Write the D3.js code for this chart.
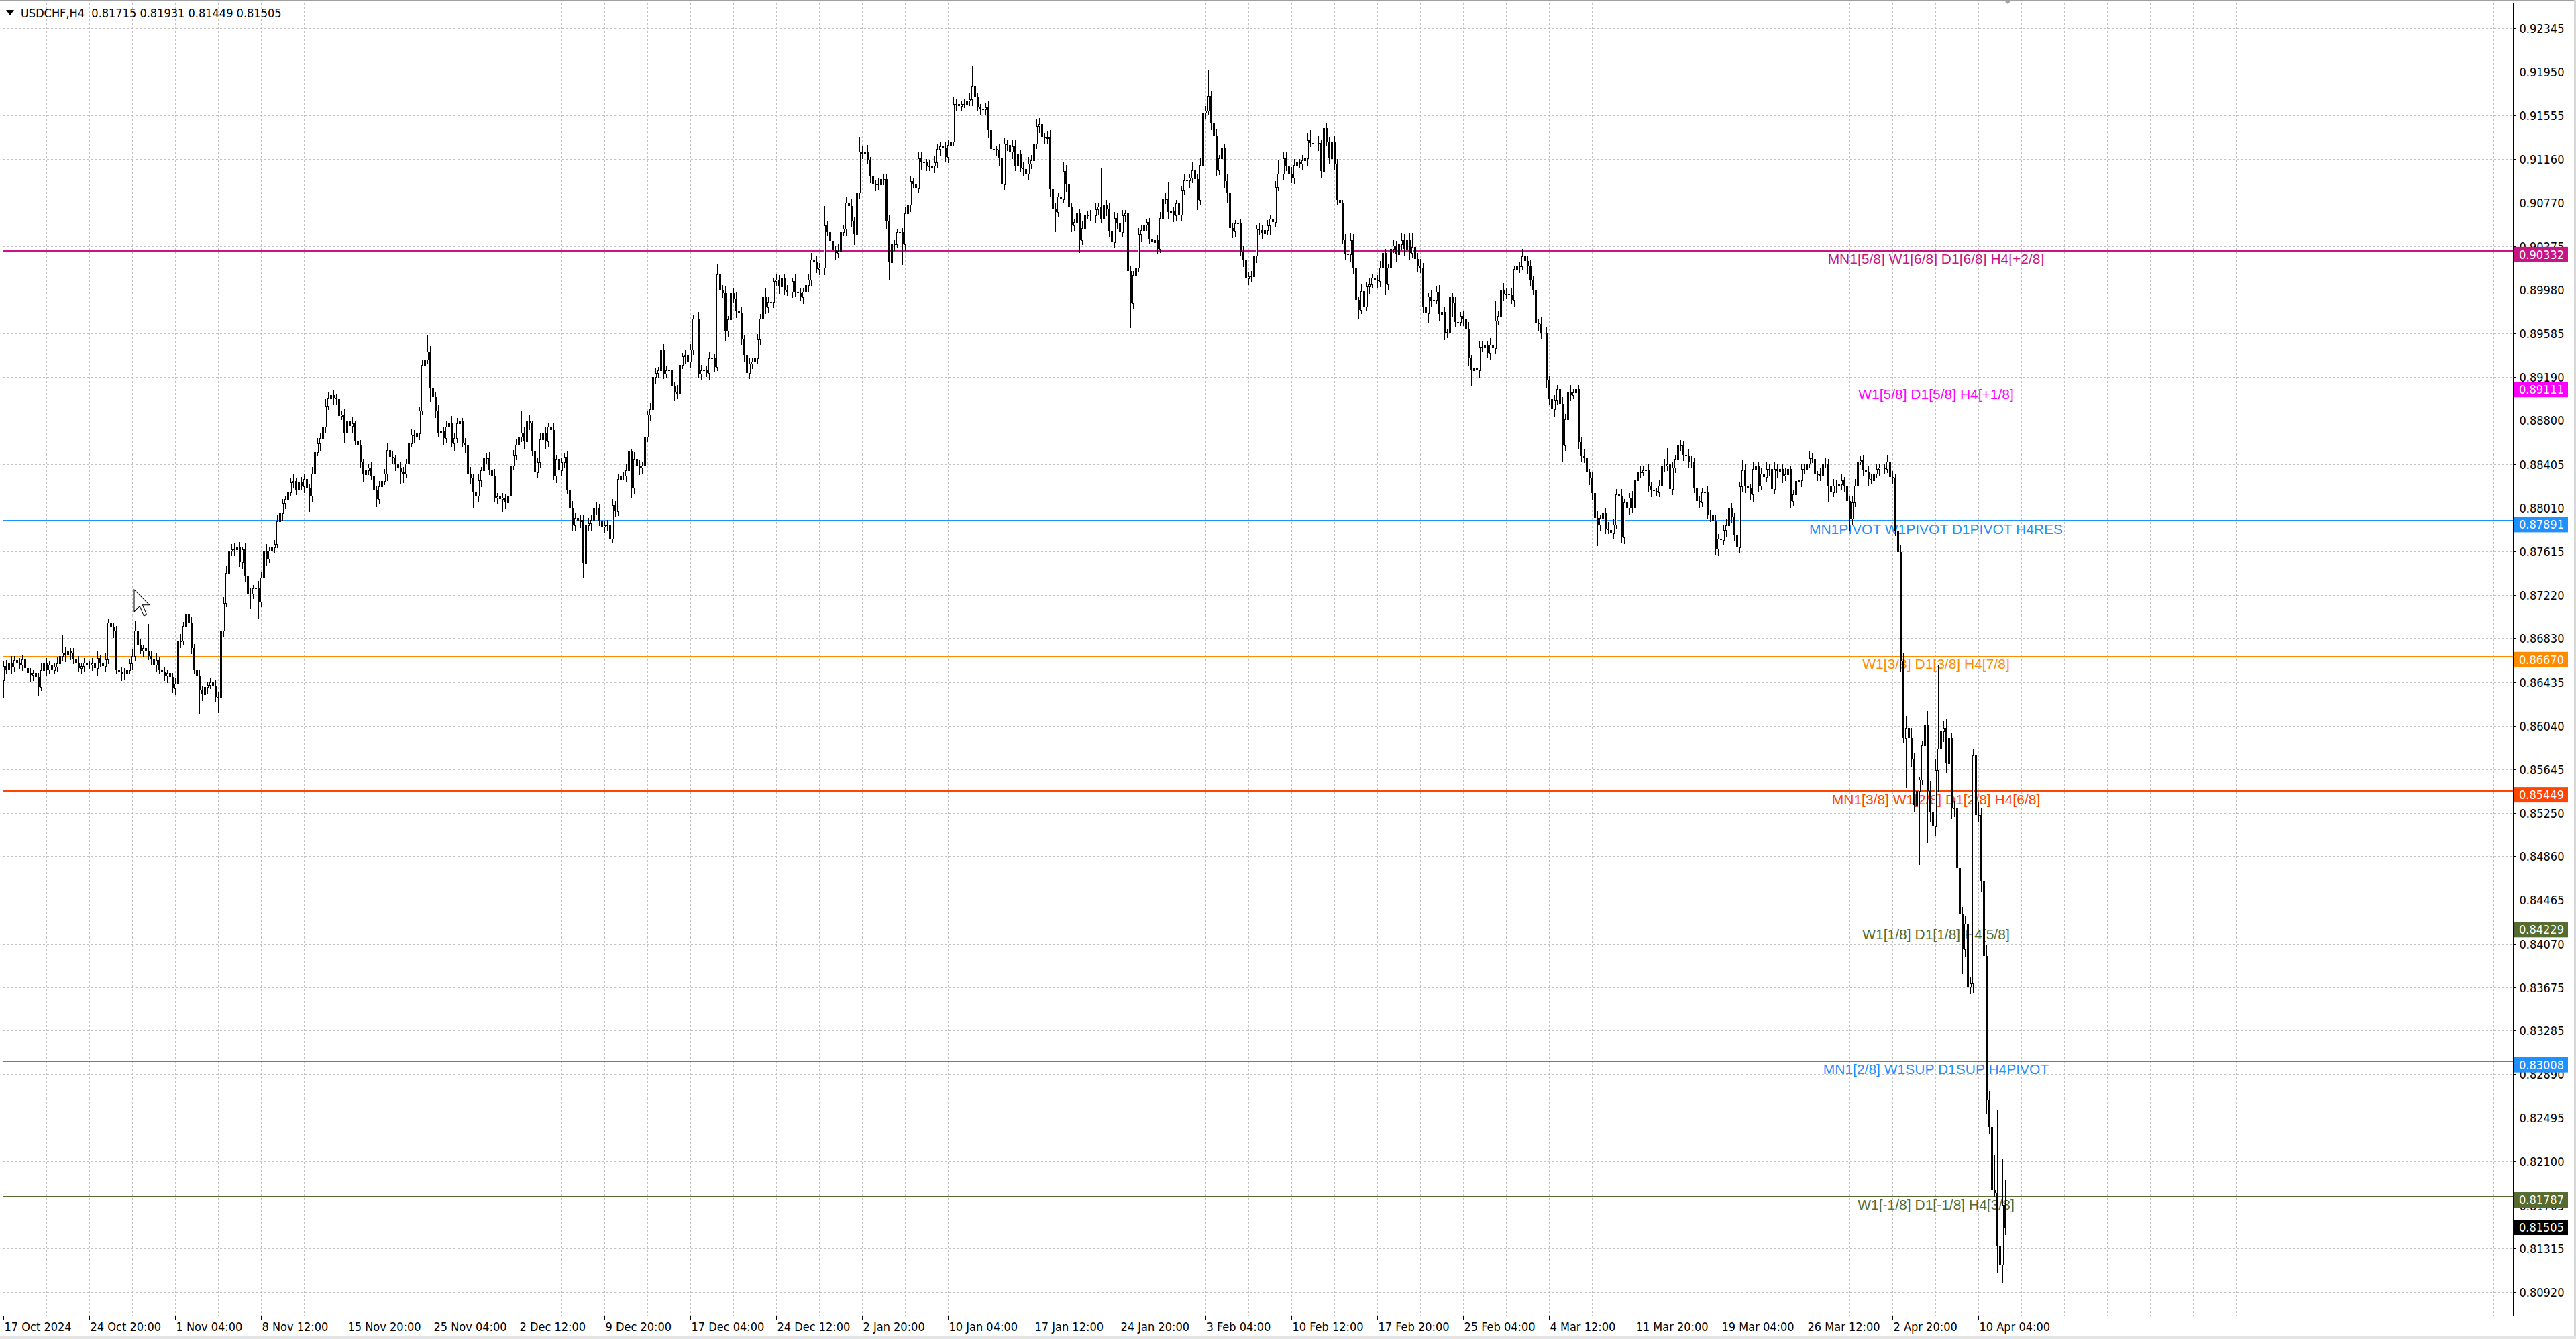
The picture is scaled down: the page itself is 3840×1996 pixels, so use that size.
<!DOCTYPE html>
<html>
<head>
<meta charset="utf-8">
<title>USDCHF,H4</title>
<script src="https://cdn.jsdelivr.net/npm/d3@7"></script>
<style>
html, body { margin: 0; padding: 0; background: #fff; overflow: hidden; }
svg { display: block; }
</style>
</head>
<body>
<svg id="chart" width="3840" height="1996"></svg>
<script>
// ---------------- data ----------------
const symbolTitle = 'USDCHF,H4';
const lastOHLC = ['0.81715', '0.81931', '0.81449', '0.81505'];
const bidPrice = 0.81505;

// H4 closes in 1/10000, one line per 16 bars
const firstOpen = 8645;
const closes = [
  8658,8655,8661,8657,8663,8660,8659,8664,8656,8652,8650,8652,8648,8639,8654,8661,
  8655,8659,8654,8657,8660,8667,8670,8668,8671,8669,8664,8661,8656,8658,8661,8659,
  8659,8660,8656,8665,8661,8658,8664,8697,8693,8689,8654,8653,8651,8651,8654,8660,
  8667,8690,8677,8672,8674,8671,8667,8664,8659,8663,8654,8653,8649,8652,8648,8638,
  8642,8680,8681,8694,8705,8697,8674,8655,8649,8636,8632,8639,8641,8643,8640,8630,
  8629,8690,8715,8742,8762,8763,8763,8765,8752,8763,8739,8723,8723,8728,8729,8716,
  8738,8762,8755,8762,8765,8768,8789,8796,8805,8809,8815,8824,8825,8817,8824,8820,
  8827,8819,8812,8832,8851,8859,8864,8874,8893,8900,8903,8900,8899,8884,8885,8869,
  8879,8875,8877,8861,8858,8842,8831,8835,8837,8830,8817,8809,8820,8825,8832,8853,
  8847,8846,8841,8837,8833,8832,8841,8859,8867,8866,8868,8889,8930,8935,8942,8909,
  8901,8889,8869,8870,8864,8874,8878,8859,8864,8877,8879,8859,8857,8832,8828,8815,
  8812,8826,8835,8846,8846,8835,8830,8810,8811,8809,8810,8806,8812,8839,8849,8858,
  8865,8869,8861,8879,8877,8852,8833,8842,8863,8869,8861,8874,8871,8830,8845,8835,
  8842,8847,8817,8801,8785,8792,8789,8790,8751,8785,8787,8790,8801,8800,8789,8784,
  8785,8785,8773,8803,8798,8827,8830,8830,8835,8852,8819,8845,8839,8837,8839,8865,
  8885,8890,8919,8923,8925,8944,8922,8925,8925,8911,8906,8904,8930,8938,8939,8933,
  8944,8972,8972,8922,8925,8925,8923,8936,8936,8928,9012,8998,8995,8961,8971,8995,
  8990,8979,8977,8953,8939,8923,8931,8933,8936,8953,8972,8991,8982,8987,8987,9006,
  9007,9001,9009,8998,8996,8996,9006,8996,8995,8991,8996,9002,9007,9025,9023,9017,
  9018,9018,9056,9050,9042,9034,9031,9033,9050,9053,9077,9074,9060,9048,9086,9123,
  9121,9123,9115,9101,9093,9093,9093,9098,9098,9060,9023,9039,9039,9050,9050,9039,
  9067,9075,9096,9094,9090,9117,9113,9113,9110,9109,9110,9113,9125,9128,9126,9118,
  9129,9132,9166,9166,9164,9166,9166,9169,9170,9182,9172,9163,9161,9161,9163,9142,
  9125,9125,9124,9117,9093,9130,9129,9123,9128,9110,9121,9108,9107,9103,9112,9115,
  9130,9146,9148,9136,9135,9136,9089,9071,9068,9082,9080,9105,9093,9073,9056,9059,
  9067,9043,9054,9065,9066,9066,9065,9071,9073,9062,9075,9071,9051,9041,9063,9058,
  9050,9065,9067,9015,8986,9011,9018,9048,9052,9057,9059,9044,9041,9043,9035,9063,
  9080,9080,9068,9069,9065,9076,9066,9088,9097,9097,9099,9106,9098,9079,9111,9158,
  9160,9173,9149,9137,9106,9117,9126,9096,9086,9054,9051,9058,9058,9032,9025,9008,
  9010,9010,9029,9053,9052,9049,9052,9056,9062,9059,9091,9103,9103,9117,9110,9103,
  9099,9111,9113,9112,9115,9117,9133,9131,9130,9130,9131,9105,9144,9132,9117,9132,
  9112,9079,9076,9043,9030,9030,9043,9018,8989,8980,8997,8983,9001,9003,9009,9007,
  9006,9018,9031,9003,9018,9035,9038,9030,9039,9043,9035,9043,9031,9037,9026,9020,
  9018,8983,8977,8992,8988,8989,8996,8976,8978,8959,8960,8991,8986,8969,8969,8974,
  8971,8963,8936,8925,8927,8925,8946,8946,8948,8941,8948,8945,8970,8974,8998,8994,
  8994,8993,8989,9017,9019,9019,9028,9024,9019,9007,8998,8968,8967,8959,8959,8916,
  8899,8890,8898,8908,8895,8857,8881,8906,8903,8905,8908,8860,8848,8846,8833,8828,
  8814,8792,8786,8792,8796,8782,8781,8778,8786,8813,8812,8774,8806,8801,8810,8801,
  8826,8833,8833,8835,8835,8820,8817,8816,8815,8821,8839,8839,8840,8818,8837,8845,
  8857,8857,8849,8848,8843,8842,8819,8807,8806,8815,8815,8795,8794,8789,8764,8773,
  8772,8781,8785,8801,8793,8776,8765,8820,8835,8821,8819,8813,8836,8839,8821,8832,
  8829,8836,8836,8818,8836,8834,8836,8830,8831,8836,8807,8813,8825,8826,8836,8836,
  8841,8846,8845,8831,8831,8830,8841,8841,8821,8815,8821,8821,8822,8826,8820,8807,
  8791,8806,8821,8843,8844,8835,8833,8827,8826,8832,8836,8837,8837,8836,8843,8829,
  8828,8780,8761,8662,8593,8602,8593,8574,8532,8545,8555,8586,8605,8545,8526,8513,
  8564,8583,8599,8602,8570,8593,8529,8529,8475,8434,8402,8425,8368,8371,8577,8523,
  8523,8463,8396,8266,8241,8184,8181,8133,8117,8171,8150
];

// wick length above / below the body, pips
const wickUp = [
  4,5,3,6,4,3,5,4,3,6,4,3,5,4,6,5,
  4,3,5,4,6,5,16,5,4,3,5,4,6,3,4,5,
  3,5,4,6,3,4,5,3,6,4,5,3,4,5,3,4,
  6,9,4,5,3,6,25,5,4,6,3,5,4,3,5,4,
  5,8,6,4,6,3,5,4,3,6,4,5,3,4,6,5,
  4,6,5,7,11,5,6,4,5,3,6,4,5,3,4,6,
  5,4,6,3,5,4,6,5,4,3,5,4,6,3,4,5,
  4,5,3,6,4,5,4,3,6,5,15,4,4,6,3,5,
  5,4,6,3,5,4,3,5,4,6,3,4,5,3,4,6,
  4,5,3,4,6,5,4,3,5,4,6,3,5,4,15,5,
  6,4,5,7,4,5,3,6,4,5,4,3,5,4,6,3,
  4,5,3,6,4,5,4,6,3,5,4,3,5,6,4,5,
  4,20,5,4,6,3,5,4,6,3,5,4,3,6,4,5,
  4,3,5,4,6,4,3,5,4,6,5,4,3,5,4,6,
  4,5,3,6,4,5,4,3,5,3,2,6,3,5,4,5,
  4,6,5,4,3,6,5,4,3,5,4,6,4,3,5,4,
  5,3,4,6,5,3,4,6,5,4,9,5,4,6,3,5,
  4,6,3,5,4,6,5,4,3,5,4,6,8,4,5,3,
  5,4,6,3,4,5,3,6,4,5,4,3,5,6,4,5,
  4,6,18,4,5,3,4,6,5,4,5,3,6,4,5,13,
  5,4,6,3,5,4,6,3,5,4,6,5,4,3,5,4,
  6,4,5,3,4,6,5,4,3,5,4,6,5,4,3,6,
  4,5,6,4,5,3,4,5,6,18,5,4,3,5,4,6,
  5,4,3,6,4,5,3,4,6,5,4,3,5,4,6,5,
  4,6,5,3,4,5,6,4,5,3,4,9,6,5,4,3,
  5,4,6,5,3,4,5,6,4,35,5,4,6,3,5,4,
  4,5,3,6,5,4,3,6,4,5,3,4,6,5,4,5,
  4,6,15,5,4,3,5,4,6,5,4,8,5,4,6,5,
  4,23,5,4,6,3,5,4,6,5,4,3,5,4,6,5,
  4,5,6,3,5,4,6,5,4,3,5,12,4,6,5,4,
  6,5,4,3,5,4,6,9,5,4,6,3,10,5,4,6,
  5,4,6,3,5,4,6,5,4,3,6,5,4,6,3,5,
  4,6,5,4,3,6,5,4,10,6,5,4,6,12,4,5,
  6,4,5,3,6,4,5,6,4,5,3,6,4,5,3,4,
  5,4,6,3,5,4,6,5,4,3,6,4,18,5,4,6,
  5,4,6,3,5,4,7,5,4,6,3,5,4,6,3,5,
  4,6,5,4,3,6,5,4,6,3,17,4,5,6,4,3,
  5,4,6,3,5,4,6,3,5,5,4,6,3,5,4,6,
  5,16,6,4,16,5,4,6,3,5,4,6,15,4,5,4,
  6,5,4,3,6,5,4,3,5,4,6,5,4,3,6,4,
  5,4,6,5,4,3,6,4,9,5,4,3,6,5,4,5,
  4,6,5,3,6,4,5,4,6,5,3,4,6,13,5,4,
  5,6,4,5,3,6,4,5,4,3,6,5,4,6,3,5,
  4,5,6,11,4,5,3,6,4,5,4,3,5,4,6,4,
  5,4,3,6,8,10,6,9,5,6,3,4,19,12,9,6,
  10,76,6,6,8,9,5,7,6,8,6,7,5,6,6,3,
  12,6,9,10,8,7,32,76,79,41,22
];
const wickDn = [
  15,4,3,5,4,6,3,5,4,3,6,5,4,8,3,5,
  6,4,5,3,4,5,4,6,3,5,4,6,3,4,5,4,
  3,5,4,6,4,3,5,4,6,5,3,4,6,5,4,3,
  5,4,6,3,5,4,3,5,4,6,3,5,4,6,5,4,
  6,4,5,3,4,6,5,4,3,21,5,4,6,3,5,4,
  13,4,5,3,6,4,5,3,4,6,5,5,13,4,5,15,
  4,5,6,3,4,5,3,4,6,5,4,3,5,4,6,3,
  5,4,14,5,4,3,6,4,5,3,4,6,5,4,3,9,
  5,4,6,3,5,4,6,5,4,3,6,7,4,5,3,6,
  4,5,6,3,10,8,4,5,3,6,4,5,4,6,3,12,
  5,6,4,15,6,4,5,3,6,4,5,3,6,4,5,14,
  4,5,6,3,5,4,6,3,5,4,11,6,4,5,3,4,
  5,4,6,3,5,4,6,5,4,3,6,5,4,3,6,4,
  5,4,3,6,4,5,4,6,13,5,4,6,3,5,4,26,
  5,4,6,3,5,4,6,3,5,4,9,5,4,6,5,24,
  4,5,3,6,4,5,4,3,6,5,8,4,5,3,6,4,
  5,4,6,3,5,4,3,6,5,4,3,5,4,9,5,4,
  3,6,5,4,6,9,5,4,3,5,4,6,5,4,3,5,
  4,6,5,4,3,6,5,4,6,3,5,4,6,5,4,3,
  5,4,6,3,5,9,6,4,5,3,6,4,5,9,4,5,
  4,5,3,6,4,5,4,3,5,6,16,4,5,3,6,18,
  5,4,6,3,5,4,6,5,4,3,5,6,4,5,3,4,
  5,4,3,6,5,4,3,6,4,5,6,3,5,33,4,6,
  11,4,5,6,11,4,5,3,6,4,5,3,6,4,5,4,
  5,4,6,3,5,4,6,5,17,4,5,3,6,4,5,4,
  5,11,4,6,3,5,4,6,5,3,4,6,5,15,4,5,
  6,4,5,6,22,5,4,3,6,4,5,4,6,5,4,3,
  5,4,6,3,5,4,6,5,4,3,6,4,5,8,4,6,
  5,3,6,8,5,4,6,5,9,4,6,5,4,3,6,9,
  5,4,3,6,4,5,3,4,8,5,4,3,6,5,4,9,
  4,5,6,3,5,4,6,3,5,4,6,5,4,3,5,6,
  5,4,6,3,5,4,6,5,4,8,3,5,4,6,3,5,
  6,5,4,9,5,4,3,6,5,4,6,3,5,4,6,5,
  4,5,6,8,5,4,3,6,7,6,4,5,12,4,6,3,
  5,4,6,14,5,4,6,3,5,4,6,5,4,3,6,5,
  4,5,3,6,4,5,3,4,6,5,4,3,6,5,4,6,
  5,4,6,3,5,14,4,6,5,3,4,6,5,4,3,6,
  5,4,19,5,6,4,3,12,5,4,6,4,5,3,6,4,
  5,6,4,3,5,4,6,5,3,4,6,5,4,3,5,4,
  6,4,5,3,6,5,4,10,5,4,6,3,5,4,5,6,
  5,4,6,3,5,4,9,5,4,6,5,4,6,3,5,4,
  5,4,6,22,4,5,3,6,4,5,6,4,5,3,6,4,
  5,4,3,6,5,4,6,3,14,5,4,6,3,5,4,6,
  10,5,4,6,3,5,4,6,3,5,4,6,5,4,3,16,
  5,4,3,9,4,45,8,7,6,4,67,4,6,47,9,63,
  8,19,6,9,8,6,9,7,19,7,22,6,7,6,8,6,
  6,9,44,12,6,9,3,23,16,16,6
];

// time axis: a label every 32 bars
const timeLabels = ['17 Oct 2024','24 Oct 20:00','1 Nov 04:00','8 Nov 12:00','15 Nov 20:00',
  '25 Nov 04:00','2 Dec 12:00','9 Dec 20:00','17 Dec 04:00','24 Dec 12:00','2 Jan 20:00',
  '10 Jan 04:00','17 Jan 12:00','24 Jan 20:00','3 Feb 04:00','10 Feb 12:00','17 Feb 20:00',
  '25 Feb 04:00','4 Mar 12:00','11 Mar 20:00','19 Mar 04:00','26 Mar 12:00','2 Apr 20:00',
  '10 Apr 04:00'];

const priceTicks = ['0.92345','0.91950','0.91555','0.91160','0.90770','0.90375','0.89980',
  '0.89585','0.89190','0.88800','0.88405','0.88010','0.87615','0.87220','0.86830','0.86435',
  '0.86040','0.85645','0.85250','0.84860','0.84465','0.84070','0.83675','0.83285','0.82890',
  '0.82495','0.82100','0.81705','0.81315','0.80920'];

// Murrey math levels
const levelPrices = [0.90332, 0.89111, 0.87891, 0.86670, 0.85449, 0.84229, 0.83008, 0.81787];
const levelNames = [
  'MN1[5/8] W1[6/8] D1[6/8] H4[+2/8]',
  'W1[5/8] D1[5/8] H4[+1/8]',
  'MN1PIVOT W1PIVOT D1PIVOT H4RES',
  'W1[3/8] D1[3/8] H4[7/8]',
  'MN1[3/8] W1[2/8] D1[2/8] H4[6/8]',
  'W1[1/8] D1[1/8] H4[5/8]',
  'MN1[2/8] W1SUP D1SUP H4PIVOT',
  'W1[-1/8] D1[-1/8] H4[3/8]'
];

// ---------------- styles ----------------
const levelColors = ['#c71585', '#ff00ff', '#1e90ff', '#ff8c00', '#ff4500', '#556b2f', '#1e90ff', '#556b2f'];
const levelWidths = [2, 1, 2, 1, 2, 1, 2, 1];
const axisFont = '"DejaVu Sans Condensed", "DejaVu Sans", sans-serif';
const textFont = '"Liberation Sans", Arial, sans-serif';
const gridColor = '#c0c0c0';

// ---------------- layout ----------------
const plot = { left: 4, top: 4, right: 3746, bottom: 1961 };
const barStep = 4;
const x = d3.scaleLinear().domain([0, (plot.right - 5) / barStep]).range([5, plot.right]);
const y = d3.scaleLinear().domain([0.807078, 0.925748]).range([plot.bottom, plot.top]);
const labelX = 2886;

const svg = d3.select('#chart');
svg.append('rect').attr('width', 3840).attr('height', 1996).attr('fill', '#fff');

// grid
const gGrid = svg.append('g').attr('shape-rendering', 'crispEdges')
  .attr('stroke', gridColor).attr('stroke-dasharray', '3,3');
gGrid.selectAll('line.h').data(priceTicks).join('line').attr('class', 'h')
  .attr('x1', plot.left).attr('x2', plot.right)
  .attr('y1', d => Math.round(y(+d)) + 0.5).attr('y2', d => Math.round(y(+d)) + 0.5);
gGrid.selectAll('line.v').data(d3.range(16, x.domain()[1], 16)).join('line').attr('class', 'v')
  .attr('x1', d => Math.round(x(d)) + 0.5).attr('x2', d => Math.round(x(d)) + 0.5)
  .attr('y1', plot.top).attr('y2', plot.bottom);

// level lines + their labels
const levels = levelPrices.map((p, i) => ({ p, name: levelNames[i], color: levelColors[i], w: levelWidths[i] }));
const gLev = svg.append('g').attr('shape-rendering', 'crispEdges');
gLev.selectAll('line').data(levels).join('line')
  .attr('x1', plot.left).attr('x2', plot.right)
  .attr('y1', d => Math.round(y(d.p)) + (d.w === 1 ? 0.5 : 0))
  .attr('y2', d => Math.round(y(d.p)) + (d.w === 1 ? 0.5 : 0))
  .attr('stroke', d => d.color).attr('stroke-width', d => d.w);
svg.append('g').selectAll('text').data(levels).join('text')
  .attr('x', labelX).attr('y', d => y(d.p) + 19.5)
  .attr('text-anchor', 'middle')
  .attr('font-family', textFont).attr('font-size', 21)
  .attr('fill', d => d.color)
  .text(d => d.name);

// bid line
svg.append('line').attr('shape-rendering', 'crispEdges')
  .attr('x1', plot.left).attr('x2', plot.right)
  .attr('y1', Math.round(y(bidPrice)) + 0.5).attr('y2', Math.round(y(bidPrice)) + 0.5)
  .attr('stroke', '#c0c0c0');

// candles
const bars = closes.map((c, i) => {
  const o = i === 0 ? firstOpen : closes[i - 1];
  return { i, o: o / 1e4, c: c / 1e4,
    h: (Math.max(o, c) + wickUp[i]) / 1e4, l: (Math.min(o, c) - wickDn[i]) / 1e4 };
});
const gBars = svg.append('g').attr('shape-rendering', 'crispEdges');
gBars.selectAll('line.wick').data(bars).join('line').attr('class', 'wick')
  .attr('x1', d => Math.round(x(d.i)) + 0.5).attr('x2', d => Math.round(x(d.i)) + 0.5)
  .attr('y1', d => Math.round(y(d.h))).attr('y2', d => Math.round(y(d.l)) + 1)
  .attr('stroke', '#000');
gBars.selectAll('rect.body').data(bars).join('rect').attr('class', 'body')
  .each(function (d) {
    const px = Math.round(x(d.i));
    const t = Math.round(y(Math.max(d.o, d.c)));
    const b = Math.round(y(Math.min(d.o, d.c)));
    const s = d3.select(this);
    if (d.c > d.o) {
      s.attr('x', px - 0.5).attr('y', t + 0.5).attr('width', 2).attr('height', Math.max(b - t, 1))
        .attr('fill', '#fff').attr('stroke', '#000');
    } else {
      s.attr('x', px - 1).attr('y', t).attr('width', 3).attr('height', Math.max(b - t, 1))
        .attr('fill', '#000');
    }
  });

// chart frame
svg.append('rect').attr('shape-rendering', 'crispEdges')
  .attr('x', plot.left + 0.5).attr('y', plot.top + 0.5)
  .attr('width', plot.right - plot.left).attr('height', plot.bottom - plot.top)
  .attr('fill', 'none').attr('stroke', '#000');

// time axis
const xAxis = d3.axisBottom(x)
  .tickValues(timeLabels.map((_, k) => k * 32))
  .tickFormat((d, k) => timeLabels[k])
  .tickSize(5).tickSizeOuter(0);
const gx = svg.append('g').attr('transform', `translate(0,${plot.bottom + 0.5})`)
  .attr('shape-rendering', 'crispEdges').call(xAxis);
gx.select('.domain').remove();
gx.selectAll('text').attr('text-anchor', 'start').attr('x', 1).attr('y', 22).attr('dy', null)
  .attr('font-family', axisFont).attr('font-size', 18).attr('fill', '#000');

// price axis
const yAxis = d3.axisRight(y)
  .tickValues(priceTicks.map(Number))
  .tickFormat((d, k) => priceTicks[k])
  .tickSize(4).tickSizeOuter(0);
const gy = svg.append('g').attr('transform', `translate(${plot.right + 0.5},0)`)
  .attr('shape-rendering', 'crispEdges').call(yAxis);
gy.select('.domain').remove();
gy.selectAll('text').attr('x', 9).attr('dy', '0.36em')
  .attr('font-family', axisFont).attr('font-size', 18).attr('fill', '#000');

// price tags on the axis
const tags = levels.map(d => ({ p: d.p, color: d.color, top: -6 }))
  .concat([{ p: bidPrice, color: '#000', top: -11.5 }]);
const gTag = svg.append('g').selectAll('g').data(tags).join('g')
  .attr('transform', d => `translate(${plot.right + 2},${y(d.p)})`);
gTag.append('rect').attr('x', 0).attr('y', d => d.top).attr('width', 80).attr('height', 23)
  .attr('fill', d => d.color);
gTag.append('text').attr('x', 7).attr('y', d => d.top + 11.5).attr('dy', '0.36em')
  .attr('font-family', axisFont).attr('font-size', 18).attr('fill', '#fff')
  .text(d => d.p.toFixed(5));

// window edges
svg.append('rect').attr('x', 0).attr('y', 0).attr('width', 3840).attr('height', 2).attr('fill', '#a0a0a0');
svg.append('rect').attr('x', 3837).attr('y', 0).attr('width', 3).attr('height', 1996).attr('fill', '#d8d8d8');
svg.append('rect').attr('x', 0).attr('y', 1992).attr('width', 3840).attr('height', 4).attr('fill', '#e4e4e4');
const shiftX = x(closes.length);
svg.append('path').attr('d', `M${shiftX - 6},0 L${shiftX + 6},0 L${shiftX},6 Z`).attr('fill', '#a0a0a0');

// header
svg.append('path').attr('d', 'M9,15 L21,15 L15,23 Z').attr('fill', '#000');
svg.append('text').attr('x', 31).attr('y', 26)
  .attr('font-family', axisFont).attr('font-size', 18).attr('fill', '#000')
  .attr('xml:space', 'preserve')
  .text(symbolTitle + '  ' + lastOHLC.join(' '));

// mouse pointer left in the screenshot
svg.append('path')
  .attr('d', 'M0,0 L0,16 L4,12 L7,19 L9,18 L6,11 L11,11 Z')
  .attr('transform', 'translate(200,879) scale(2.06)')
  .attr('fill', '#fff').attr('stroke', '#000').attr('stroke-width', 0.5)
  .attr('stroke-linejoin', 'miter');
</script>
</body>
</html>
